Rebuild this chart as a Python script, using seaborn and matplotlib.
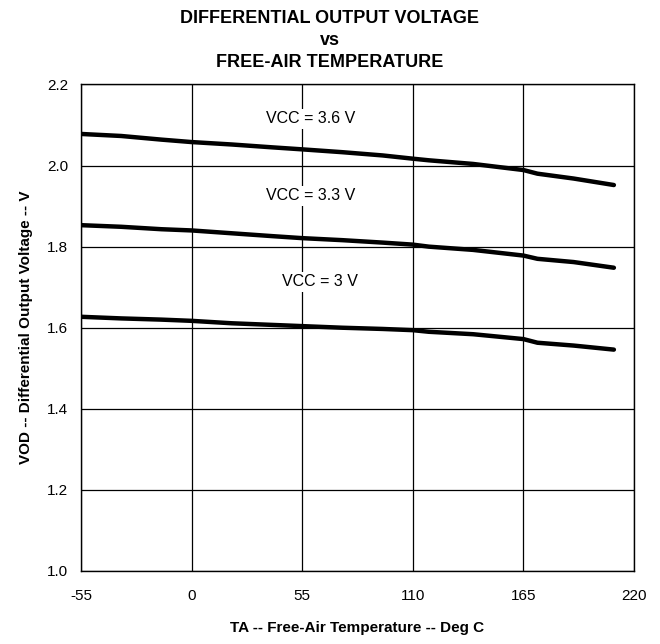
import numpy as np
import pandas as pd
import matplotlib
matplotlib.use("Agg")
import matplotlib.pyplot as plt
import seaborn as sns

temps = [-55, -35, -15, 0, 20, 40, 55, 75, 95, 110, 118, 140, 165, 172, 190, 210]
vod_36 = [2.078, 2.073, 2.064, 2.058, 2.052, 2.045, 2.040, 2.033, 2.025, 2.017, 2.013, 2.004, 1.989, 1.980, 1.968, 1.952]
vod_33 = [1.853, 1.849, 1.843, 1.840, 1.833, 1.826, 1.821, 1.816, 1.810, 1.805, 1.800, 1.792, 1.778, 1.770, 1.762, 1.748]
vod_30 = [1.627, 1.623, 1.620, 1.617, 1.611, 1.607, 1.604, 1.600, 1.597, 1.594, 1.590, 1.584, 1.572, 1.563, 1.556, 1.546]
series_names = ["VCC = 3.6 V", "VCC = 3.3 V", "VCC = 3 V"]
label_x = [59, 59, 64]
label_y = [2.115, 1.925, 1.713]
x_ticks = [-55, 0, 55, 110, 165, 220]
y_ticks = [1.0, 1.2, 1.4, 1.6, 1.8, 2.0, 2.2]

df = pd.DataFrame({
    "temp": temps * 3,
    "vod": vod_36 + vod_33 + vod_30,
    "series": sum([[n] * len(temps) for n in series_names], []),
})

sns.set_theme(style="white")
plt.rcParams['font.family'] = ['Liberation Sans', 'DejaVu Sans']
plt.rcParams['text.color'] = 'black'
plt.rcParams['axes.labelcolor'] = 'black'

fig = plt.figure(figsize=(6.6, 6.44), dpi=100)
ax = fig.add_axes([0.1227, 0.1134, 0.8379, 0.7554])

sns.lineplot(data=df, x="temp", y="vod", hue="series", palette=["black"] * 3,
             linewidth=3.2, legend=False, ax=ax, sort=False)

ax.set_xlim(-55, 220)
ax.set_ylim(1.0, 2.2)
ax.set_xticks(x_ticks)
ax.set_yticks(y_ticks)
ax.set_xticklabels([str(t) for t in x_ticks], fontsize=11)
ax.set_yticklabels([f"{t:.1f}" for t in y_ticks], fontsize=11)
ax.tick_params(axis='y', length=0, pad=9, colors='black', labelcolor='black')
ax.tick_params(axis='x', length=0, pad=13, colors='black', labelcolor='black')
ax.grid(True, color='black', linewidth=0.9)
ax.set_axisbelow(True)
for s in ax.spines.values():
    s.set_color('black')
    s.set_linewidth(1.0)

for name, lx, ly in zip(series_names, label_x, label_y):
    ax.text(lx, ly, name, fontsize=11.5, ha='center', va='center', color='black',
            bbox=dict(facecolor='white', edgecolor='none', pad=2))

ax.set_xlabel("TA -- Free-Air Temperature -- Deg C", fontsize=11, fontweight='bold',
              labelpad=13, color='black')
ax.set_ylabel("VOD -- Differential Output Voltage -- V", fontsize=11, fontweight='bold',
              labelpad=10, color='black')

fig.suptitle("DIFFERENTIAL OUTPUT VOLTAGE\nvs\nFREE-AIR TEMPERATURE", fontsize=13,
             fontweight='bold', y=1 - 10 / 644, va='top', linespacing=1.37, color='black')

fig.savefig("out.png", dpi=100, facecolor='white')
